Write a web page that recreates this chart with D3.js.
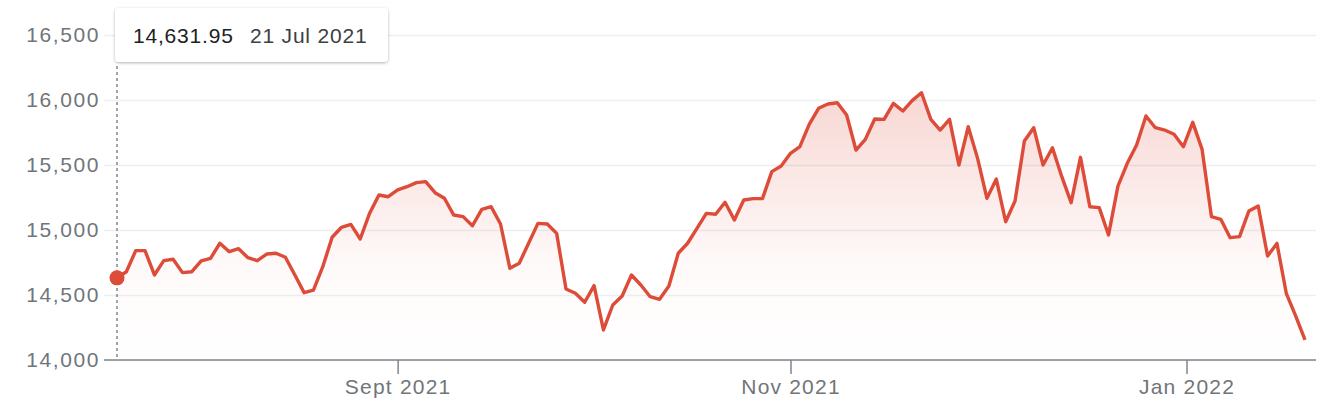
<!DOCTYPE html>
<html>
<head>
<meta charset="utf-8">
<script src="https://cdn.jsdelivr.net/npm/d3@7"></script>
<style>
  body { margin: 0; background: #fff; }
  svg { display: block; font-family: "Liberation Sans", Arial, Helvetica, sans-serif; }
</style>
</head>
<body>
<svg id="chart" width="1344" height="418"></svg>
<script>
// Trading days shown on the chart (one point per session)
const tradingDays = [
  "2021-07-21","2021-07-22","2021-07-23","2021-07-26","2021-07-27","2021-07-28","2021-07-29","2021-07-30",
  "2021-08-02","2021-08-03","2021-08-04","2021-08-05","2021-08-06","2021-08-09","2021-08-10","2021-08-11",
  "2021-08-12","2021-08-13","2021-08-16","2021-08-17","2021-08-18","2021-08-19","2021-08-20","2021-08-23",
  "2021-08-24","2021-08-25","2021-08-26","2021-08-27","2021-08-30","2021-08-31",
  "2021-09-01","2021-09-02","2021-09-03","2021-09-07","2021-09-08","2021-09-09","2021-09-10","2021-09-13",
  "2021-09-14","2021-09-15","2021-09-16","2021-09-17","2021-09-20","2021-09-21","2021-09-22","2021-09-23",
  "2021-09-24","2021-09-27","2021-09-28","2021-09-29","2021-09-30",
  "2021-10-01","2021-10-04","2021-10-05","2021-10-06","2021-10-07","2021-10-08","2021-10-11","2021-10-12",
  "2021-10-13","2021-10-14","2021-10-15","2021-10-18","2021-10-19","2021-10-20","2021-10-21","2021-10-22",
  "2021-10-25","2021-10-26","2021-10-27","2021-10-28","2021-10-29",
  "2021-11-01","2021-11-02","2021-11-03","2021-11-04","2021-11-05","2021-11-08","2021-11-09","2021-11-10",
  "2021-11-11","2021-11-12","2021-11-15","2021-11-16","2021-11-17","2021-11-18","2021-11-19","2021-11-22",
  "2021-11-23","2021-11-24","2021-11-26","2021-11-29","2021-11-30",
  "2021-12-01","2021-12-02","2021-12-03","2021-12-06","2021-12-07","2021-12-08","2021-12-09","2021-12-10",
  "2021-12-13","2021-12-14","2021-12-15","2021-12-16","2021-12-17","2021-12-20","2021-12-21","2021-12-22",
  "2021-12-23","2021-12-27","2021-12-28","2021-12-29","2021-12-30","2021-12-31",
  "2022-01-03","2022-01-04","2022-01-05","2022-01-06","2022-01-07","2022-01-10","2022-01-11","2022-01-12",
  "2022-01-13","2022-01-14","2022-01-18","2022-01-19","2022-01-20"
];

// Closing values
const closes = [
  14632,14679,14841,14841,14654,14764,14775,14672,
  14679,14762,14782,14898,14833,14856,14787,14764,
  14815,14821,14790,14656,14518,14538,14718,14944,
  15021,15043,14931,15128,15269,15256,
  15308,15333,15364,15372,15287,15244,15115,15103,
  15033,15159,15179,15046,14705,14744,14898,15051,
  15046,14974,14546,14513,14444,
  14572,14231,14423,14492,14654,14577,14487,14467,
  14569,14821,14898,15013,15128,15121,15213,15077,
  15231,15241,15241,15449,15492,
  15590,15641,15813,15936,15969,15979,15885,15615,
  15697,15854,15851,15974,15915,15995,16056,15851,
  15769,15851,15500,15795,15551,
  15244,15392,15064,15223,15685,15787,15500,15633,
  15410,15210,15559,15179,15172,14962,15338,15513,
  15654,15877,15787,15769,15736,15641,
  15828,15620,15103,15082,14941,14949,15146,15185,
  14800,14897,14513,14340,14154
];

const yTicks = [14000, 14500, 15000, 15500, 16000, 16500];
const xTickDates = ["2021-09-01", "2021-11-01", "2022-01-01"];
const xTickLabels = ["Sept 2021", "Nov 2021", "Jan 2022"];

const tooltipValue = "14,631.95";
const tooltipDate = "21 Jul 2021";

const red = "#dd4b39";
const plotLeft = 104, plotRight = 1316;

const parse = d3.timeParse("%Y-%m-%d");
const days = tradingDays.map(parse);
const data = days.map((d, i) => ({date: d, i: i, value: closes[i]}));

const svg = d3.select("#chart");

const x = d3.scaleLinear().domain([0, data.length - 1]).range([117, 1305]);
const y = d3.scaleLinear().domain([14000, 16500]).range([360, 35]);

// calendar date -> fractional session index (for axis ticks)
function dateToIndex(dt) {
  const j = d3.bisectLeft(days, dt);
  if (j <= 0) return 0;
  if (j >= days.length) return days.length - 1;
  const a = days[j - 1], b = days[j];
  return (j - 1) + (dt - a) / (b - a);
}

// gradient for the area
const defs = svg.append("defs");
const grad = defs.append("linearGradient")
    .attr("id", "area-grad")
    .attr("gradientUnits", "userSpaceOnUse")
    .attr("x1", 0).attr("x2", 0)
    .attr("y1", y(d3.max(closes))).attr("y2", y(14000));
grad.append("stop").attr("offset", 0).attr("stop-color", red).attr("stop-opacity", 0.22);
grad.append("stop").attr("offset", 0.65).attr("stop-color", red).attr("stop-opacity", 0.03);
grad.append("stop").attr("offset", 1).attr("stop-color", red).attr("stop-opacity", 0);

const shadow = defs.append("filter").attr("id", "shadow")
    .attr("x", "-10%").attr("y", "-30%").attr("width", "120%").attr("height", "170%");
shadow.append("feDropShadow")
    .attr("dx", 0).attr("dy", 1).attr("stdDeviation", 1.6)
    .attr("flood-color", "#000").attr("flood-opacity", 0.3);

// Y axis / grid
const yAxis = d3.axisLeft(y).tickValues(yTicks).tickFormat(d3.format(",")).tickSize(0).tickPadding(4);
svg.append("g")
    .attr("transform", `translate(${plotLeft},0)`)
    .call(yAxis)
    .call(g => g.select(".domain").remove())
    .call(g => g.selectAll(".tick text")
        .attr("fill", "#70757a")
        .attr("font-size", 21)
        .attr("letter-spacing", 1.6)
        .attr("font-family", "Liberation Sans, Arial, sans-serif"))
    .call(g => g.selectAll(".tick line").clone()
        .attr("x2", plotRight - plotLeft)
        .attr("stroke", "#eceff1")
        .attr("stroke-width", 1.5));

// Area + line
const area = d3.area()
    .x(d => x(d.i))
    .y0(y(14000))
    .y1(d => y(d.value));
svg.append("path")
    .datum(data)
    .attr("fill", "url(#area-grad)")
    .attr("d", area);

// X axis
const xAxis = d3.axisBottom(x)
    .tickValues(xTickDates.map(s => dateToIndex(parse(s))))
    .tickFormat((d, i) => xTickLabels[i])
    .tickSize(14)
    .tickSizeOuter(0)
    .tickPadding(5);
svg.append("g")
    .attr("transform", `translate(0,${y(14000)})`)
    .call(xAxis)
    .call(g => g.select(".domain")
        .attr("d", `M${plotLeft},0H${plotRight}`)
        .attr("stroke", "#80868b")
        .attr("stroke-width", 1.5))
    .call(g => g.selectAll(".tick line").attr("stroke", "#80868b").attr("stroke-width", 1.5))
    .call(g => g.selectAll(".tick text")
        .attr("fill", "#70757a")
        .attr("font-size", 21)
        .attr("letter-spacing", 1.2)
        .attr("font-family", "Liberation Sans, Arial, sans-serif"));

const line = d3.line()
    .x(d => x(d.i))
    .y(d => y(d.value));
svg.append("path")
    .datum(data)
    .attr("fill", "none")
    .attr("stroke", red)
    .attr("stroke-width", 3.4)
    .attr("stroke-linejoin", "round")
    .attr("d", line);

// hover marker
const first = data[0];
svg.append("line")
    .attr("x1", x(first.i)).attr("x2", x(first.i))
    .attr("y1", 66).attr("y2", y(14000) - 2)
    .attr("stroke", "#80868b")
    .attr("stroke-width", 1.5)
    .attr("stroke-dasharray", "3,3");
svg.append("circle")
    .attr("cx", x(first.i))
    .attr("cy", y(14631.95))
    .attr("r", 7.5)
    .attr("fill", red);

// tooltip
const tip = svg.append("g").attr("transform", "translate(115,8)");
tip.append("rect")
    .attr("width", 273).attr("height", 54).attr("rx", 4)
    .attr("fill", "#fff")
    .attr("filter", "url(#shadow)");
tip.append("text")
    .attr("x", 18).attr("y", 35)
    .attr("font-size", 21).attr("letter-spacing", 0.8)
    .attr("fill", "#202124")
    .text(tooltipValue);
tip.append("text")
    .attr("x", 135).attr("y", 35)
    .attr("font-size", 21).attr("letter-spacing", 0.8)
    .attr("fill", "#3c4043")
    .text(tooltipDate);
</script>
</body>
</html>
